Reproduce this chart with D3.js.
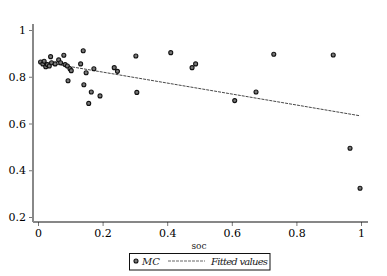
<!DOCTYPE html>
<meta charset="utf-8">
<script src="https://d3js.org/d3.v7.min.js"></script>
<style>
  body { margin: 0; background: #fff; }
</style>
<div id="my_dataviz"></div>
<script>

// scatter points
var soc = [0.008, 0.015, 0.019, 0.024, 0.029, 0.035, 0.039, 0.042, 0.053, 0.064,
           0.070, 0.080, 0.084, 0.091, 0.099, 0.103, 0.093, 0.140, 0.132, 0.149,
           0.142, 0.173, 0.165, 0.192, 0.157, 0.236, 0.246, 0.303, 0.306, 0.411,
           0.477, 0.488, 0.609, 0.675, 0.730, 0.914, 0.966, 0.997];
var mc  = [0.863, 0.855, 0.866, 0.843, 0.852, 0.846, 0.886, 0.860, 0.855, 0.872,
           0.860, 0.892, 0.852, 0.846, 0.834, 0.826, 0.783, 0.911, 0.855, 0.817,
           0.766, 0.834, 0.735, 0.718, 0.686, 0.839, 0.823, 0.889, 0.733, 0.903,
           0.839, 0.855, 0.698, 0.735, 0.896, 0.893, 0.494, 0.323];

// fitted values (ends of the line)
var fitSoc = [0.008, 0.997];
var fitMc  = [0.865, 0.633];

var xTicks = [0, 0.2, 0.4, 0.6, 0.8, 1];
var yTicks = [0.2, 0.4, 0.6, 0.8, 1];

var width = 387, height = 276;
var serif = "DejaVu Serif";

var svg = d3.select("#my_dataviz")
  .append("svg")
    .attr("width", width)
    .attr("height", height)
    .attr("font-family", serif);

var x = d3.scaleLinear().domain([0, 1]).range([38, 361]);
var y = d3.scaleLinear().domain([0.2, 1]).range([217, 30]);

// x axis
var xAxis = svg.append("g")
  .attr("transform", "translate(0,222)")
  .call(d3.axisBottom(x).tickValues(xTicks).tickSize(4).tickPadding(3)
    .tickFormat(function(d) { return d3.format("")(d); }));
xAxis.attr("font-family", serif).attr("font-size", 11);
xAxis.select(".domain").remove();
xAxis.selectAll("line").attr("stroke", "#777");
xAxis.selectAll("text").attr("fill", "#000");
svg.append("line")
  .attr("x1", 33).attr("x2", 368).attr("y1", 222).attr("y2", 222)
  .attr("stroke", "#111").attr("stroke-width", 1.2);

// y axis
var yAxis = svg.append("g")
  .attr("transform", "translate(33,0)")
  .call(d3.axisLeft(y).tickValues(yTicks).tickSize(4).tickPadding(3)
    .tickFormat(function(d) { return d3.format("")(d); }));
yAxis.attr("font-family", serif).attr("font-size", 11);
yAxis.select(".domain").remove();
yAxis.selectAll("line").attr("stroke", "#777");
yAxis.selectAll("text").attr("fill", "#000");
svg.append("line")
  .attr("x1", 33).attr("x2", 33).attr("y1", 24).attr("y2", 222)
  .attr("stroke", "#888").attr("stroke-width", 2);

// fitted line
var fit = fitSoc.map(function(d, i) { return [d, fitMc[i]]; });
svg.append("path")
  .datum(fit)
  .attr("fill", "none")
  .attr("stroke", "#333")
  .attr("stroke-width", 0.9)
  .attr("stroke-dasharray", "3,1")
  .attr("d", d3.line().x(function(d) { return x(d[0]); }).y(function(d) { return y(d[1]); }));

// points
var pts = soc.map(function(d, i) { return [d, mc[i]]; });
svg.selectAll("circle.pt")
  .data(pts)
  .enter()
  .append("circle")
    .attr("class", "pt")
    .attr("cx", function(d) { return x(d[0]); })
    .attr("cy", function(d) { return y(d[1]); })
    .attr("r", 2)
    .attr("fill", "#777")
    .attr("stroke", "#111")
    .attr("stroke-width", 1.1);

// x title
svg.append("text")
  .attr("x", 199).attr("y", 249)
  .attr("text-anchor", "middle")
  .attr("font-size", 9)
  .attr("fill", "#222")
  .text("soc");

// legend
var lg = svg.append("g");
lg.append("rect")
  .attr("x", 129.5).attr("y", 253.5).attr("width", 140.5).attr("height", 16.5)
  .attr("fill", "#fff").attr("stroke", "#111").attr("stroke-width", 1);
lg.append("circle")
  .attr("cx", 136).attr("cy", 261).attr("r", 2)
  .attr("fill", "#777").attr("stroke", "#111").attr("stroke-width", 1.1);
lg.append("text")
  .attr("x", 142).attr("y", 265)
  .attr("font-size", 10).attr("font-style", "italic").attr("fill", "#222")
  .text("MC");
lg.append("line")
  .attr("x1", 168).attr("x2", 205).attr("y1", 261).attr("y2", 261)
  .attr("stroke", "#555").attr("stroke-width", 0.9)
  .attr("stroke-dasharray", "3,1");
lg.append("text")
  .attr("x", 211).attr("y", 265)
  .attr("textLength", 57)
  .attr("font-size", 10).attr("font-style", "italic").attr("fill", "#222")
  .text("Fitted values");

</script>
